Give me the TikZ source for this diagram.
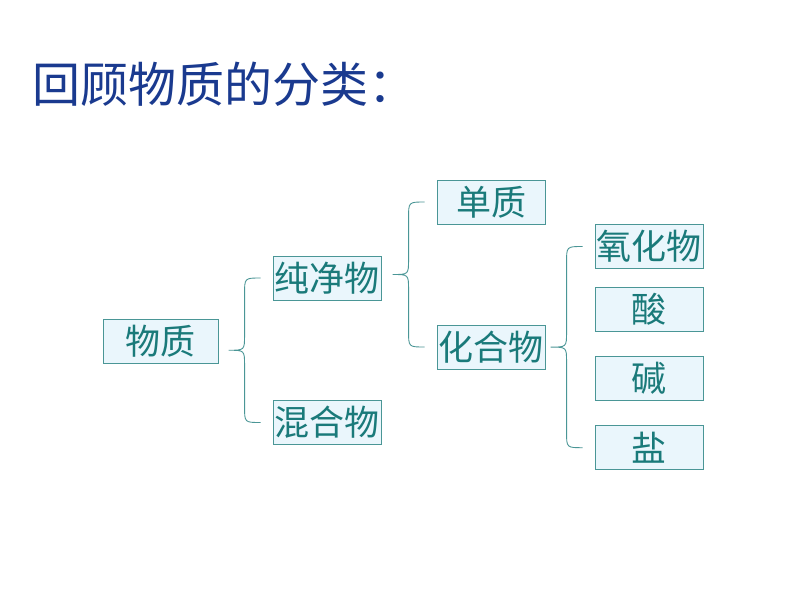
\documentclass[tikz,border=0pt]{standalone}
\usepackage{fontspec}
\setmainfont{Noto Sans CJK SC}
\usetikzlibrary{calc}
\definecolor{boxfill}{HTML}{EAF6FC}
\definecolor{boxline}{HTML}{4A9696}
\definecolor{boxtext}{HTML}{1A7A7A}
\definecolor{titleblue}{HTML}{1A3A8F}
\tikzset{
  cbox/.style={draw=boxline, fill=boxfill, text=boxtext, line width=0.9pt,
    minimum width=108pt, minimum height=44pt, inner sep=0pt,
    font=\fontsize{35}{35}\selectfont},
  br/.style={draw=boxline, line width=0.9pt}
}
\newcommand\lowtext[1]{\raisebox{-2.5pt}{#1}}
\newcommand\mybrace[2]{%
  \draw[br] let \p1=(#1.west), \p2=(#2.west), \p3=($(#1.west)!0.5!(#2.west)$) in
  (\x1-12pt,\y1) .. controls (\x1-28pt,\y1) .. (\x1-28pt,\y1-16pt)
  -- (\x1-28pt,\y3+15pt) .. controls (\x1-28pt,\y3) .. (\x1-44pt,\y3)
  .. controls (\x1-28pt,\y3) .. (\x1-28pt,\y3-15pt)
  -- (\x1-28pt,\y2+16pt) .. controls (\x1-28pt,\y2) .. (\x1-12pt,\y2);}
\begin{document}
\begin{tikzpicture}[x=1pt,y=-1pt]
\useasboundingbox[fill=white] (0,0) rectangle (800,600);
\node[anchor=west, inner sep=0pt, text=titleblue, font=\fontsize{48}{48}\selectfont] (title) at (32,84) {回顾物质的分类：};
\node[cbox, minimum width=115pt] (wz) at (160.5,341) {\lowtext{物质}};
\node[cbox] (cjw) at (327,278) {\lowtext{纯净物}};
\node[cbox] (hhw) at (327,422.5) {\lowtext{混合物}};
\node[cbox] (dz) at (491,202) {\lowtext{单质}};
\node[cbox] (hhw2) at (491,347) {\lowtext{化合物}};
\node[cbox] (yhw) at (649,246.5) {\lowtext{氧化物}};
\node[cbox] (suan) at (649,309.5) {\lowtext{酸}};
\node[cbox] (jian) at (649,378.3) {\lowtext{碱}};
\node[cbox] (yan) at (649,447.7) {\lowtext{盐}};
\mybrace{cjw}{hhw}
\mybrace{dz}{hhw2}
\mybrace{yhw}{yan}
\end{tikzpicture}
\end{document}
